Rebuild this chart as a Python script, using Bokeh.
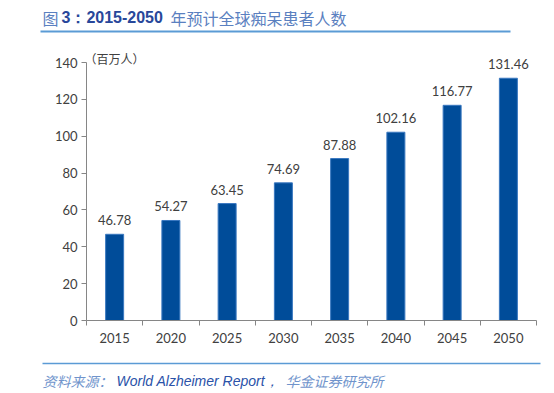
from bokeh.plotting import figure
from bokeh.layouts import column
from bokeh.models import FixedTicker, ColumnDataSource, Range1d
from bokeh.core.properties import value
from bokeh.embed import file_html
from bokeh.resources import INLINE

years = ["2015", "2020", "2025", "2030", "2035", "2040", "2045", "2050"]
patients = [46.78, 54.27, 63.45, 74.69, 87.88, 102.16, 116.77, 131.46]
y_ticks = [0, 20, 40, 60, 80, 100, 120, 140]
unit_label = "（百万人）"

W = 554
HEAD_H, MAIN_H, FOOT_H = 40, 315, 38
# frame edges inside the main figure (page y minus HEAD_H)
FL, FR, FT, FB = 86, 536, 11, 280
TOP_TICK_PX = 22   # page y 62 -> where the top tick sits inside main figure

LIGHT = "#5a80c0"
DARK = "#28479a"
RULE = "#5b9bd5"


def blank(h):
    f = figure(width=W, height=h, output_backend="svg", toolbar_location=None,
               x_range=Range1d(0, W), y_range=Range1d(h, 0),
               x_axis_location=None, y_axis_location=None,
               min_border=0, min_border_left=0, min_border_right=0,
               min_border_top=0, min_border_bottom=0, frame_align=False)
    f.outline_line_color = None
    f.grid.grid_line_color = None
    f.background_fill_color = "white"
    f.border_fill_color = "white"
    return f


def seg_text(f, txt, x, y, color, size, style="normal", font="Liberation Sans"):
    f.text(x=[x], y=[y], text=[txt], text_color=color, text_font_size=size,
           text_font_style=style, text_font=value(font), text_baseline="middle",
           text_align="left")


# ---- header
head = blank(HEAD_H)
seg_text(head, "图", 42, 17, LIGHT, "16px", font="Noto Sans CJK SC")
seg_text(head, "3：2015-2050", 61, 17, DARK, "16px", "bold")
seg_text(head, "年预计全球痴呆患者人数", 170, 17, LIGHT, "16px", font="Noto Sans CJK SC")
head.segment(x0=[40], y0=[31], x1=[510], y1=[31], line_color=RULE, line_width=2)

# ---- main chart
xs = [i + 1 for i in range(len(years))]
src = ColumnDataSource(dict(x=xs, top=patients, lab=[f"{v:.2f}" for v in patients]))

ymax = y_ticks[-1] * (FB - FT) / (FB - TOP_TICK_PX)

p = figure(width=W, height=MAIN_H, output_backend="svg", toolbar_location=None,
           x_range=Range1d(0.5, len(years) + 0.5), y_range=Range1d(0, ymax),
           min_border_left=FL, min_border_right=W - FR, min_border_top=FT,
           min_border_bottom=MAIN_H - FB, frame_align=False)
p.outline_line_color = None
p.grid.grid_line_color = None
p.background_fill_color = "white"
p.border_fill_color = "white"

p.vbar(x="x", top="top", width=0.32, source=src, fill_color="#004C99",
       line_color="#3a78c0", line_width=1)
p.text(x="x", y="top", text="lab", source=src, text_align="center", text_baseline="bottom",
       y_offset=-9, text_font_size="13px", text_color="#404040", text_font=value("Lato"))

# unit label next to the top of the value axis
p.text(x=[0.5], y=[y_ticks[-1]], text=[unit_label], text_align="left",
       text_baseline="middle", x_offset=-2, y_offset=-4, text_font_size="12px",
       text_color="#404040", text_font=value("Noto Sans CJK SC"))

ya = p.yaxis[0]
ya.ticker = FixedTicker(ticks=y_ticks)
ya.bounds = (y_ticks[0], y_ticks[-1])
ya.axis_line_color = "#868686"
ya.major_tick_line_color = "#868686"
ya.major_tick_in = 0
ya.major_tick_out = 5
ya.minor_tick_line_color = None
ya.major_label_text_font = "Lato"
ya.major_label_text_font_size = "13px"
ya.major_label_text_color = "#404040"
ya.major_label_standoff = 4

xa = p.xaxis[0]
xa.ticker = FixedTicker(ticks=xs, minor_ticks=[i + 0.5 for i in range(len(years) + 1)])
xa.major_label_overrides = {x: y for x, y in zip(xs, years)}
xa.axis_line_color = "#868686"
xa.major_tick_line_color = None
xa.minor_tick_line_color = "#868686"
xa.minor_tick_in = 0
xa.minor_tick_out = 5
xa.major_label_text_font = "Lato"
xa.major_label_text_font_size = "13px"
xa.major_label_text_color = "#404040"
xa.major_label_standoff = 6

# ---- footer
foot = blank(FOOT_H)
foot.segment(x0=[42], y0=[8], x1=[540], y1=[8], line_color=RULE, line_width=1.5)
seg_text(foot, "资料来源：", 42, 25, "#7094cc", "14px", "italic", font="Noto Sans CJK SC")
seg_text(foot, "World Alzheimer Report，", 116, 25, "#2a52a8", "14px", "italic")
seg_text(foot, "华金证券研究所", 285, 25, "#7094cc", "14px", "italic", font="Noto Sans CJK SC")

layout = column(head, p, foot, spacing=0)
open("out.html", "w").write(file_html(layout, INLINE))
